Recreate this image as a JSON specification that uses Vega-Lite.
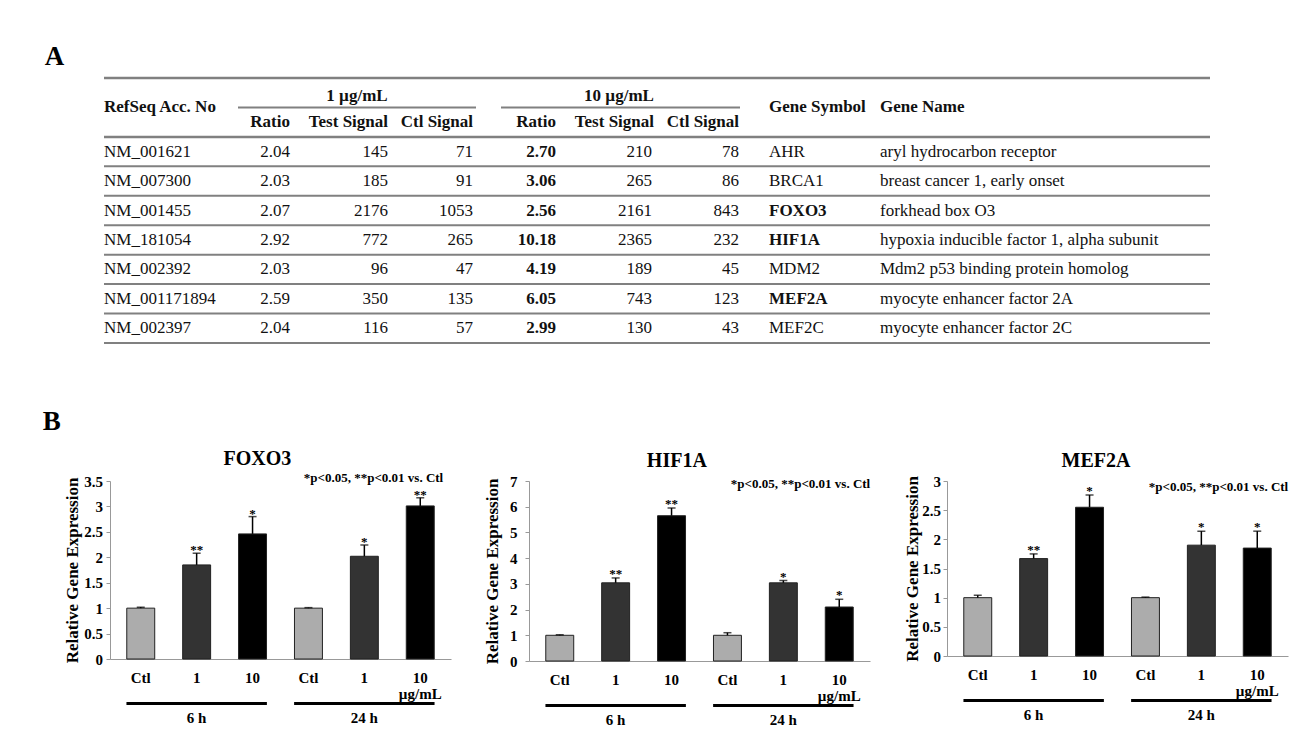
{
  "$schema": "https://vega.github.io/schema/vega-lite/v6.json",
  "background": "white",
  "padding": {"left": 42, "top": 42, "right": 5, "bottom": 0},
  "config": {
    "view": {"stroke": null},
    "font": "Liberation Serif",
    "axis": {"labelFont": "Liberation Serif", "titleFont": "Liberation Serif", "labelFontWeight": "bold", "titleFontWeight": "bold", "labelColor": "#000", "titleColor": "#000", "grid": false, "domainColor": "#999", "tickColor": "#999"},
    "axisY": {"labelOverlap": false},
    "title": {"font": "Liberation Serif", "fontWeight": "bold", "color": "#000"},
    "text": {"font": "Liberation Serif"}
  },
  "datasets": {
    "table": [
      {"acc": "NM_001621", "r1": 2.04, "t1": 145, "c1": 71, "r10": 2.70, "t10": 210, "c10": 78, "symbol": "AHR", "name": "aryl hydrocarbon receptor"},
      {"acc": "NM_007300", "r1": 2.03, "t1": 185, "c1": 91, "r10": 3.06, "t10": 265, "c10": 86, "symbol": "BRCA1", "name": "breast cancer 1, early onset"},
      {"acc": "NM_001455", "r1": 2.07, "t1": 2176, "c1": 1053, "r10": 2.56, "t10": 2161, "c10": 843, "symbol": "FOXO3", "name": "forkhead box O3"},
      {"acc": "NM_181054", "r1": 2.92, "t1": 772, "c1": 265, "r10": 10.18, "t10": 2365, "c10": 232, "symbol": "HIF1A", "name": "hypoxia inducible factor 1, alpha subunit"},
      {"acc": "NM_002392", "r1": 2.03, "t1": 96, "c1": 47, "r10": 4.19, "t10": 189, "c10": 45, "symbol": "MDM2", "name": "Mdm2 p53 binding protein homolog"},
      {"acc": "NM_001171894", "r1": 2.59, "t1": 350, "c1": 135, "r10": 6.05, "t10": 743, "c10": 123, "symbol": "MEF2A", "name": "myocyte enhancer factor 2A"},
      {"acc": "NM_002397", "r1": 2.04, "t1": 116, "c1": 57, "r10": 2.99, "t10": 130, "c10": 43, "symbol": "MEF2C", "name": "myocyte enhancer factor 2C"}
    ],
    "expr": [
      {"gene": "FOXO3", "cond": "6h_Ctl", "time": "6 h", "dose": "Ctl", "mean": 1.0, "upper": 1.02, "sig": ""},
      {"gene": "FOXO3", "cond": "6h_1", "time": "6 h", "dose": "1", "mean": 1.85, "upper": 2.08, "sig": "**"},
      {"gene": "FOXO3", "cond": "6h_10", "time": "6 h", "dose": "10", "mean": 2.46, "upper": 2.80, "sig": "*"},
      {"gene": "FOXO3", "cond": "24h_Ctl", "time": "24 h", "dose": "Ctl", "mean": 1.0, "upper": 1.01, "sig": ""},
      {"gene": "FOXO3", "cond": "24h_1", "time": "24 h", "dose": "1", "mean": 2.02, "upper": 2.24, "sig": "*"},
      {"gene": "FOXO3", "cond": "24h_10", "time": "24 h", "dose": "10", "mean": 3.01, "upper": 3.17, "sig": "**"},
      {"gene": "HIF1A", "cond": "6h_Ctl", "time": "6 h", "dose": "Ctl", "mean": 1.0, "upper": 1.02, "sig": ""},
      {"gene": "HIF1A", "cond": "6h_1", "time": "6 h", "dose": "1", "mean": 3.04, "upper": 3.23, "sig": "**"},
      {"gene": "HIF1A", "cond": "6h_10", "time": "6 h", "dose": "10", "mean": 5.65, "upper": 5.95, "sig": "**"},
      {"gene": "HIF1A", "cond": "24h_Ctl", "time": "24 h", "dose": "Ctl", "mean": 1.0, "upper": 1.10, "sig": ""},
      {"gene": "HIF1A", "cond": "24h_1", "time": "24 h", "dose": "1", "mean": 3.04, "upper": 3.13, "sig": "*"},
      {"gene": "HIF1A", "cond": "24h_10", "time": "24 h", "dose": "10", "mean": 2.10, "upper": 2.40, "sig": "*"},
      {"gene": "MEF2A", "cond": "6h_Ctl", "time": "6 h", "dose": "Ctl", "mean": 1.0, "upper": 1.04, "sig": ""},
      {"gene": "MEF2A", "cond": "6h_1", "time": "6 h", "dose": "1", "mean": 1.67, "upper": 1.75, "sig": "**"},
      {"gene": "MEF2A", "cond": "6h_10", "time": "6 h", "dose": "10", "mean": 2.55, "upper": 2.76, "sig": "*"},
      {"gene": "MEF2A", "cond": "24h_Ctl", "time": "24 h", "dose": "Ctl", "mean": 1.0, "upper": 1.01, "sig": ""},
      {"gene": "MEF2A", "cond": "24h_1", "time": "24 h", "dose": "1", "mean": 1.90, "upper": 2.14, "sig": "*"},
      {"gene": "MEF2A", "cond": "24h_10", "time": "24 h", "dose": "10", "mean": 1.85, "upper": 2.14, "sig": "*"}
    ]
  },
  "spacing": 64,
  "vconcat": [
    {
      "data": {"name": "table"},
      "width": 1100,
      "height": 265,
      "title": {"text": "A", "anchor": "start", "fontSize": 27, "dx": -58, "offset": 6},
      "layer": [
        {"mark": {"type": "rule", "color": "#808080", "strokeWidth": 2},
         "encoding": {
           "y": {"field": "acc", "type": "nominal", "bandPosition": 1, "scale": {"type": "band", "domain": ["h1", "h2", "NM_001621", "NM_007300", "NM_001455", "NM_181054", "NM_002392", "NM_001171894", "NM_002397"], "paddingInner": 0, "paddingOuter": 0}, "axis": null},
           "x": {"datum": 102, "type": "quantitative", "scale": {"domain": [108, 1208], "nice": false, "zero": false}, "axis": null},
           "x2": {"datum": 1208}}},
        {"mark": {"type": "text", "font": "Liberation Serif", "align": "left", "baseline": "middle", "fontSize": 17, "color": "#111"},
         "encoding": {
           "y": {"field": "acc", "type": "nominal", "axis": null},
           "x": {"datum": 102, "type": "quantitative", "scale": {"domain": [108, 1208], "nice": false, "zero": false}, "axis": null},
           "text": {"field": "acc"}}},
        {"mark": {"type": "text", "font": "Liberation Serif", "align": "right", "baseline": "middle", "fontSize": 17, "color": "#111"},
         "encoding": {
           "y": {"field": "acc", "type": "nominal", "axis": null},
           "x": {"datum": 288, "type": "quantitative", "scale": {"domain": [108, 1208], "nice": false, "zero": false}, "axis": null},
           "text": {"field": "r1", "type": "quantitative", "format": ".2f"}}},
        {"mark": {"type": "text", "font": "Liberation Serif", "align": "right", "baseline": "middle", "fontSize": 17, "color": "#111"},
         "encoding": {
           "y": {"field": "acc", "type": "nominal", "axis": null},
           "x": {"datum": 386, "type": "quantitative", "scale": {"domain": [108, 1208], "nice": false, "zero": false}, "axis": null},
           "text": {"field": "t1", "type": "quantitative", "format": "d"}}},
        {"mark": {"type": "text", "font": "Liberation Serif", "align": "right", "baseline": "middle", "fontSize": 17, "color": "#111"},
         "encoding": {
           "y": {"field": "acc", "type": "nominal", "axis": null},
           "x": {"datum": 471, "type": "quantitative", "scale": {"domain": [108, 1208], "nice": false, "zero": false}, "axis": null},
           "text": {"field": "c1", "type": "quantitative", "format": "d"}}},
        {"mark": {"type": "text", "font": "Liberation Serif", "align": "right", "baseline": "middle", "fontSize": 17, "fontWeight": "bold", "color": "#111"},
         "encoding": {
           "y": {"field": "acc", "type": "nominal", "axis": null},
           "x": {"datum": 554, "type": "quantitative", "scale": {"domain": [108, 1208], "nice": false, "zero": false}, "axis": null},
           "text": {"field": "r10", "type": "quantitative", "format": ".2f"}}},
        {"mark": {"type": "text", "font": "Liberation Serif", "align": "right", "baseline": "middle", "fontSize": 17, "color": "#111"},
         "encoding": {
           "y": {"field": "acc", "type": "nominal", "axis": null},
           "x": {"datum": 650, "type": "quantitative", "scale": {"domain": [108, 1208], "nice": false, "zero": false}, "axis": null},
           "text": {"field": "t10", "type": "quantitative", "format": "d"}}},
        {"mark": {"type": "text", "font": "Liberation Serif", "align": "right", "baseline": "middle", "fontSize": 17, "color": "#111"},
         "encoding": {
           "y": {"field": "acc", "type": "nominal", "axis": null},
           "x": {"datum": 737, "type": "quantitative", "scale": {"domain": [108, 1208], "nice": false, "zero": false}, "axis": null},
           "text": {"field": "c10", "type": "quantitative", "format": "d"}}},
        {"transform": [{"filter": "indexof(['FOXO3','HIF1A','MEF2A'], datum.symbol) < 0"}],
         "mark": {"type": "text", "font": "Liberation Serif", "align": "left", "baseline": "middle", "fontSize": 17, "color": "#111"},
         "encoding": {
           "y": {"field": "acc", "type": "nominal", "axis": null},
           "x": {"datum": 767, "type": "quantitative", "scale": {"domain": [108, 1208], "nice": false, "zero": false}, "axis": null},
           "text": {"field": "symbol"}}},
        {"transform": [{"filter": "indexof(['FOXO3','HIF1A','MEF2A'], datum.symbol) >= 0"}],
         "mark": {"type": "text", "font": "Liberation Serif", "align": "left", "baseline": "middle", "fontSize": 17, "fontWeight": "bold", "color": "#111"},
         "encoding": {
           "y": {"field": "acc", "type": "nominal", "axis": null},
           "x": {"datum": 767, "type": "quantitative", "scale": {"domain": [108, 1208], "nice": false, "zero": false}, "axis": null},
           "text": {"field": "symbol"}}},
        {"mark": {"type": "text", "font": "Liberation Serif", "align": "left", "baseline": "middle", "fontSize": 17, "color": "#111"},
         "encoding": {
           "y": {"field": "acc", "type": "nominal", "axis": null},
           "x": {"datum": 878, "type": "quantitative", "scale": {"domain": [108, 1208], "nice": false, "zero": false}, "axis": null},
           "text": {"field": "name"}}},
        {"transform": [{"filter": "datum.acc == 'NM_001621'"}],
         "layer": [
           {"mark": {"type": "rule", "color": "#808080", "strokeWidth": 2.5},
            "encoding": {"y": {"datum": "h1", "type": "nominal", "bandPosition": 0, "axis": null}, "x": {"datum": 102, "type": "quantitative", "scale": {"domain": [108, 1208], "nice": false, "zero": false}, "axis": null}, "x2": {"datum": 1208}}},
           {"mark": {"type": "rule", "color": "#808080", "strokeWidth": 2.5},
            "encoding": {"y": {"datum": "h2", "type": "nominal", "bandPosition": 1, "axis": null}, "x": {"datum": 102, "type": "quantitative", "scale": {"domain": [108, 1208], "nice": false, "zero": false}, "axis": null}, "x2": {"datum": 1208}}},
           {"mark": {"type": "rule", "color": "#808080", "strokeWidth": 2},
            "encoding": {"y": {"datum": "h1", "type": "nominal", "bandPosition": 1, "axis": null}, "x": {"datum": 236, "type": "quantitative", "scale": {"domain": [108, 1208], "nice": false, "zero": false}, "axis": null}, "x2": {"datum": 474}}},
           {"mark": {"type": "rule", "color": "#808080", "strokeWidth": 2},
            "encoding": {"y": {"datum": "h1", "type": "nominal", "bandPosition": 1, "axis": null}, "x": {"datum": 499, "type": "quantitative", "scale": {"domain": [108, 1208], "nice": false, "zero": false}, "axis": null}, "x2": {"datum": 738}}},
           {"mark": {"type": "text", "font": "Liberation Serif", "text": "RefSeq Acc. No", "align": "left", "baseline": "middle", "fontSize": 17, "fontWeight": "bold", "color": "#111"},
            "encoding": {"y": {"datum": "h1", "type": "nominal", "bandPosition": 1, "axis": null}, "x": {"datum": 102, "type": "quantitative", "scale": {"domain": [108, 1208], "nice": false, "zero": false}, "axis": null}}},
           {"mark": {"type": "text", "font": "Liberation Serif", "text": "Gene Symbol", "align": "left", "baseline": "middle", "fontSize": 17, "fontWeight": "bold", "color": "#111"},
            "encoding": {"y": {"datum": "h1", "type": "nominal", "bandPosition": 1, "axis": null}, "x": {"datum": 767, "type": "quantitative", "scale": {"domain": [108, 1208], "nice": false, "zero": false}, "axis": null}}},
           {"mark": {"type": "text", "font": "Liberation Serif", "text": "Gene Name", "align": "left", "baseline": "middle", "fontSize": 17, "fontWeight": "bold", "color": "#111"},
            "encoding": {"y": {"datum": "h1", "type": "nominal", "bandPosition": 1, "axis": null}, "x": {"datum": 878, "type": "quantitative", "scale": {"domain": [108, 1208], "nice": false, "zero": false}, "axis": null}}},
           {"mark": {"type": "text", "font": "Liberation Serif", "text": "1 µg/mL", "align": "center", "baseline": "middle", "dy": 3, "fontSize": 17, "fontWeight": "bold", "color": "#111"},
            "encoding": {"y": {"datum": "h1", "type": "nominal", "axis": null}, "x": {"datum": 355, "type": "quantitative", "scale": {"domain": [108, 1208], "nice": false, "zero": false}, "axis": null}}},
           {"mark": {"type": "text", "font": "Liberation Serif", "text": "10 µg/mL", "align": "center", "baseline": "middle", "dy": 3, "fontSize": 17, "fontWeight": "bold", "color": "#111"},
            "encoding": {"y": {"datum": "h1", "type": "nominal", "axis": null}, "x": {"datum": 617, "type": "quantitative", "scale": {"domain": [108, 1208], "nice": false, "zero": false}, "axis": null}}},
           {"mark": {"type": "text", "font": "Liberation Serif", "text": "Ratio", "align": "right", "baseline": "middle", "fontSize": 17, "fontWeight": "bold", "color": "#111"},
            "encoding": {"y": {"datum": "h2", "type": "nominal", "axis": null}, "x": {"datum": 288, "type": "quantitative", "scale": {"domain": [108, 1208], "nice": false, "zero": false}, "axis": null}}},
           {"mark": {"type": "text", "font": "Liberation Serif", "text": "Test Signal", "align": "right", "baseline": "middle", "fontSize": 17, "fontWeight": "bold", "color": "#111"},
            "encoding": {"y": {"datum": "h2", "type": "nominal", "axis": null}, "x": {"datum": 386, "type": "quantitative", "scale": {"domain": [108, 1208], "nice": false, "zero": false}, "axis": null}}},
           {"mark": {"type": "text", "font": "Liberation Serif", "text": "Ctl Signal", "align": "right", "baseline": "middle", "fontSize": 17, "fontWeight": "bold", "color": "#111"},
            "encoding": {"y": {"datum": "h2", "type": "nominal", "axis": null}, "x": {"datum": 471, "type": "quantitative", "scale": {"domain": [108, 1208], "nice": false, "zero": false}, "axis": null}}},
           {"mark": {"type": "text", "font": "Liberation Serif", "text": "Ratio", "align": "right", "baseline": "middle", "fontSize": 17, "fontWeight": "bold", "color": "#111"},
            "encoding": {"y": {"datum": "h2", "type": "nominal", "axis": null}, "x": {"datum": 554, "type": "quantitative", "scale": {"domain": [108, 1208], "nice": false, "zero": false}, "axis": null}}},
           {"mark": {"type": "text", "font": "Liberation Serif", "text": "Test Signal", "align": "right", "baseline": "middle", "fontSize": 17, "fontWeight": "bold", "color": "#111"},
            "encoding": {"y": {"datum": "h2", "type": "nominal", "axis": null}, "x": {"datum": 652, "type": "quantitative", "scale": {"domain": [108, 1208], "nice": false, "zero": false}, "axis": null}}},
           {"mark": {"type": "text", "font": "Liberation Serif", "text": "Ctl Signal", "align": "right", "baseline": "middle", "fontSize": 17, "fontWeight": "bold", "color": "#111"},
            "encoding": {"y": {"datum": "h2", "type": "nominal", "axis": null}, "x": {"datum": 737, "type": "quantitative", "scale": {"domain": [108, 1208], "nice": false, "zero": false}, "axis": null}}}
         ]}
      ]
    },
    {
      "data": {"name": "expr"},
      "title": {"text": "B", "anchor": "start", "fontSize": 27, "dx": -21, "offset": 13},
      "spacing": 32,
      "hconcat": [
        {
          "spacing": 0,
          "vconcat": [
            {
              "width": 341, "height": 178,
              "title": {"text": "FOXO3", "fontSize": 20, "frame": "bounds", "offset": 3},
              "transform": [{"filter": "datum.gene == 'FOXO3'"}],
              "encoding": {"x": {"field": "cond", "type": "nominal", "sort": ["6h_Ctl", "6h_1", "6h_10", "24h_Ctl", "24h_1", "24h_10"], "scale": {"paddingInner": 0.5, "paddingOuter": 0.3}, "axis": {"title": null, "ticks": false, "labelAngle": 0, "labelPadding": 11.5, "labelFontSize": 15, "labelLineHeight": 16, "labelExpr": "datum.value == '24h_10' ? ['10', 'µg/mL'] : split(datum.value, '_')[1]"}}},
              "layer": [
                {"mark": {"type": "bar", "stroke": "#222", "strokeWidth": 1},
                 "encoding": {
                   "y": {"field": "mean", "type": "quantitative", "scale": {"domain": [0, 3.5], "nice": false}, "axis": {"title": "Relative Gene Expression", "titleFontSize": 17, "values": [0, 0.5, 1, 1.5, 2, 2.5, 3, 3.5], "tickCount": 8, "format": "~g", "labelFontSize": 15, "labelOverlap": false, "tickSize": 4, "labelPadding": 3.5, "titlePadding": 2}},
                   "color": {"field": "dose", "type": "nominal", "scale": {"domain": ["Ctl", "1", "10"], "range": ["#acacac", "#333333", "#000000"]}, "legend": null}}},
                {"mark": {"type": "rule", "color": "#000", "strokeWidth": 1.5},
                 "encoding": {"y": {"field": "mean", "type": "quantitative", "axis": {"title": "Relative Gene Expression", "titleFontSize": 17, "values": [0, 0.5, 1, 1.5, 2, 2.5, 3, 3.5], "tickCount": 8, "format": "~g", "labelFontSize": 15, "labelOverlap": false, "tickSize": 4, "labelPadding": 3.5, "titlePadding": 2}}, "y2": {"field": "upper"}}},
                {"mark": {"type": "tick", "color": "#000", "thickness": 1.5, "size": 8},
                 "encoding": {"y": {"field": "upper", "type": "quantitative", "axis": {"title": "Relative Gene Expression", "titleFontSize": 17, "values": [0, 0.5, 1, 1.5, 2, 2.5, 3, 3.5], "tickCount": 8, "format": "~g", "labelFontSize": 15, "labelOverlap": false, "tickSize": 4, "labelPadding": 3.5, "titlePadding": 2}}}},
                {"mark": {"type": "text", "font": "Liberation Serif", "baseline": "alphabetic", "dy": 1, "fontSize": 13, "fontWeight": "bold", "color": "#000"},
                 "encoding": {"y": {"field": "upper", "type": "quantitative", "axis": {"title": "Relative Gene Expression", "titleFontSize": 17, "values": [0, 0.5, 1, 1.5, 2, 2.5, 3, 3.5], "tickCount": 8, "format": "~g", "labelFontSize": 15, "labelOverlap": false, "tickSize": 4, "labelPadding": 3.5, "titlePadding": 2}}, "text": {"field": "sig"}}},
                {"transform": [{"filter": "datum.cond == '24h_10'"}],
                 "mark": {"type": "text", "font": "Liberation Serif", "text": "*p<0.05, **p<0.01 vs. Ctl", "align": "right", "baseline": "middle", "dx": 9, "dy": -3, "fontSize": 13, "fontWeight": "bold", "color": "#000"},
                 "encoding": {"x": {"field": "cond", "type": "nominal", "bandPosition": 1, "sort": ["6h_Ctl", "6h_1", "6h_10", "24h_Ctl", "24h_1", "24h_10"]}, "y": {"datum": 3.5, "type": "quantitative", "axis": {"title": "Relative Gene Expression", "titleFontSize": 17, "values": [0, 0.5, 1, 1.5, 2, 2.5, 3, 3.5], "tickCount": 8, "format": "~g", "labelFontSize": 15, "labelOverlap": false, "tickSize": 4, "labelPadding": 3.5, "titlePadding": 2}}}}
              ]
            },
            {
              "width": 341, "height": 3,
              "transform": [{"filter": "datum.gene == 'FOXO3'"}],
              "mark": {"type": "bar", "color": "#000"},
              "encoding": {"x": {"field": "time", "type": "nominal", "sort": ["6 h", "24 h"], "scale": {"paddingInner": 0.1667, "paddingOuter": 0.1}, "axis": {"title": null, "domain": false, "ticks": false, "labelAngle": 0, "labelPadding": 5, "labelFontSize": 15}}}
            }
          ]
        },
        {
          "spacing": 0,
          "vconcat": [
            {
              "width": 341, "height": 180,
              "title": {"text": "HIF1A", "fontSize": 20, "frame": "bounds", "offset": 3},
              "transform": [{"filter": "datum.gene == 'HIF1A'"}],
              "encoding": {"x": {"field": "cond", "type": "nominal", "sort": ["6h_Ctl", "6h_1", "6h_10", "24h_Ctl", "24h_1", "24h_10"], "scale": {"paddingInner": 0.5, "paddingOuter": 0.3}, "axis": {"title": null, "ticks": false, "labelAngle": 0, "labelPadding": 11.5, "labelFontSize": 15, "labelLineHeight": 16, "labelExpr": "datum.value == '24h_10' ? ['10', 'µg/mL'] : split(datum.value, '_')[1]"}}},
              "layer": [
                {"mark": {"type": "bar", "stroke": "#222", "strokeWidth": 1},
                 "encoding": {
                   "y": {"field": "mean", "type": "quantitative", "scale": {"domain": [0, 7], "nice": false}, "axis": {"title": "Relative Gene Expression", "titleFontSize": 17, "values": [0, 1, 2, 3, 4, 5, 6, 7], "tickCount": 8, "format": "~g", "labelFontSize": 15, "labelOverlap": false, "tickSize": 4, "labelPadding": 8, "titlePadding": 8}},
                   "color": {"field": "dose", "type": "nominal", "scale": {"domain": ["Ctl", "1", "10"], "range": ["#acacac", "#333333", "#000000"]}, "legend": null}}},
                {"mark": {"type": "rule", "color": "#000", "strokeWidth": 1.5},
                 "encoding": {"y": {"field": "mean", "type": "quantitative", "axis": {"title": "Relative Gene Expression", "titleFontSize": 17, "values": [0, 1, 2, 3, 4, 5, 6, 7], "tickCount": 8, "format": "~g", "labelFontSize": 15, "labelOverlap": false, "tickSize": 4, "labelPadding": 8, "titlePadding": 8}}, "y2": {"field": "upper"}}},
                {"mark": {"type": "tick", "color": "#000", "thickness": 1.5, "size": 8},
                 "encoding": {"y": {"field": "upper", "type": "quantitative", "axis": {"title": "Relative Gene Expression", "titleFontSize": 17, "values": [0, 1, 2, 3, 4, 5, 6, 7], "tickCount": 8, "format": "~g", "labelFontSize": 15, "labelOverlap": false, "tickSize": 4, "labelPadding": 8, "titlePadding": 8}}}},
                {"mark": {"type": "text", "font": "Liberation Serif", "baseline": "alphabetic", "dy": 0, "fontSize": 13, "fontWeight": "bold", "color": "#000"},
                 "encoding": {"y": {"field": "upper", "type": "quantitative", "axis": {"title": "Relative Gene Expression", "titleFontSize": 17, "values": [0, 1, 2, 3, 4, 5, 6, 7], "tickCount": 8, "format": "~g", "labelFontSize": 15, "labelOverlap": false, "tickSize": 4, "labelPadding": 8, "titlePadding": 8}}, "text": {"field": "sig"}}},
                {"transform": [{"filter": "datum.cond == '24h_10'"}],
                 "mark": {"type": "text", "font": "Liberation Serif", "text": "*p<0.05, **p<0.01 vs. Ctl", "align": "right", "baseline": "middle", "dx": 17, "dy": 3, "fontSize": 13, "fontWeight": "bold", "color": "#000"},
                 "encoding": {"x": {"field": "cond", "type": "nominal", "bandPosition": 1, "sort": ["6h_Ctl", "6h_1", "6h_10", "24h_Ctl", "24h_1", "24h_10"]}, "y": {"datum": 7, "type": "quantitative", "axis": {"title": "Relative Gene Expression", "titleFontSize": 17, "values": [0, 1, 2, 3, 4, 5, 6, 7], "tickCount": 8, "format": "~g", "labelFontSize": 15, "labelOverlap": false, "tickSize": 4, "labelPadding": 8, "titlePadding": 8}}}}
              ]
            },
            {
              "width": 341, "height": 3,
              "transform": [{"filter": "datum.gene == 'HIF1A'"}],
              "mark": {"type": "bar", "color": "#000"},
              "encoding": {"x": {"field": "time", "type": "nominal", "sort": ["6 h", "24 h"], "scale": {"paddingInner": 0.1667, "paddingOuter": 0.1}, "axis": {"title": null, "domain": false, "ticks": false, "labelAngle": 0, "labelPadding": 5, "labelFontSize": 15}}}
            }
          ]
        },
        {
          "spacing": 0,
          "vconcat": [
            {
              "width": 341, "height": 175,
              "title": {"text": "MEF2A", "fontSize": 20, "frame": "bounds", "offset": 3},
              "transform": [{"filter": "datum.gene == 'MEF2A'"}],
              "encoding": {"x": {"field": "cond", "type": "nominal", "sort": ["6h_Ctl", "6h_1", "6h_10", "24h_Ctl", "24h_1", "24h_10"], "scale": {"paddingInner": 0.5, "paddingOuter": 0.3}, "axis": {"title": null, "ticks": false, "labelAngle": 0, "labelPadding": 11.5, "labelFontSize": 15, "labelLineHeight": 16, "labelExpr": "datum.value == '24h_10' ? ['10', 'µg/mL'] : split(datum.value, '_')[1]"}}},
              "layer": [
                {"mark": {"type": "bar", "stroke": "#222", "strokeWidth": 1},
                 "encoding": {
                   "y": {"field": "mean", "type": "quantitative", "scale": {"domain": [0, 3], "nice": false}, "axis": {"title": "Relative Gene Expression", "titleFontSize": 17, "values": [0, 0.5, 1, 1.5, 2, 2.5, 3], "tickCount": 7, "format": "~g", "labelFontSize": 15, "labelOverlap": false, "tickSize": 4, "labelPadding": 2.5, "titlePadding": 0}},
                   "color": {"field": "dose", "type": "nominal", "scale": {"domain": ["Ctl", "1", "10"], "range": ["#acacac", "#333333", "#000000"]}, "legend": null}}},
                {"mark": {"type": "rule", "color": "#000", "strokeWidth": 1.5},
                 "encoding": {"y": {"field": "mean", "type": "quantitative", "axis": {"title": "Relative Gene Expression", "titleFontSize": 17, "values": [0, 0.5, 1, 1.5, 2, 2.5, 3], "tickCount": 7, "format": "~g", "labelFontSize": 15, "labelOverlap": false, "tickSize": 4, "labelPadding": 2.5, "titlePadding": 0}}, "y2": {"field": "upper"}}},
                {"mark": {"type": "tick", "color": "#000", "thickness": 1.5, "size": 8},
                 "encoding": {"y": {"field": "upper", "type": "quantitative", "axis": {"title": "Relative Gene Expression", "titleFontSize": 17, "values": [0, 0.5, 1, 1.5, 2, 2.5, 3], "tickCount": 7, "format": "~g", "labelFontSize": 15, "labelOverlap": false, "tickSize": 4, "labelPadding": 2.5, "titlePadding": 0}}}},
                {"mark": {"type": "text", "font": "Liberation Serif", "baseline": "alphabetic", "dy": 0, "fontSize": 13, "fontWeight": "bold", "color": "#000"},
                 "encoding": {"y": {"field": "upper", "type": "quantitative", "axis": {"title": "Relative Gene Expression", "titleFontSize": 17, "values": [0, 0.5, 1, 1.5, 2, 2.5, 3], "tickCount": 7, "format": "~g", "labelFontSize": 15, "labelOverlap": false, "tickSize": 4, "labelPadding": 2.5, "titlePadding": 0}}, "text": {"field": "sig"}}},
                {"transform": [{"filter": "datum.cond == '24h_10'"}],
                 "mark": {"type": "text", "font": "Liberation Serif", "text": "*p<0.05, **p<0.01 vs. Ctl", "align": "right", "baseline": "middle", "dx": 17, "dy": 6, "fontSize": 13, "fontWeight": "bold", "color": "#000"},
                 "encoding": {"x": {"field": "cond", "type": "nominal", "bandPosition": 1, "sort": ["6h_Ctl", "6h_1", "6h_10", "24h_Ctl", "24h_1", "24h_10"]}, "y": {"datum": 3, "type": "quantitative", "axis": {"title": "Relative Gene Expression", "titleFontSize": 17, "values": [0, 0.5, 1, 1.5, 2, 2.5, 3], "tickCount": 7, "format": "~g", "labelFontSize": 15, "labelOverlap": false, "tickSize": 4, "labelPadding": 2.5, "titlePadding": 0}}}}
              ]
            },
            {
              "width": 341, "height": 3,
              "transform": [{"filter": "datum.gene == 'MEF2A'"}],
              "mark": {"type": "bar", "color": "#000"},
              "encoding": {"x": {"field": "time", "type": "nominal", "sort": ["6 h", "24 h"], "scale": {"paddingInner": 0.1667, "paddingOuter": 0.1}, "axis": {"title": null, "domain": false, "ticks": false, "labelAngle": 0, "labelPadding": 5, "labelFontSize": 15}}}
            }
          ]
        }
      ]
    }
  ]
}
